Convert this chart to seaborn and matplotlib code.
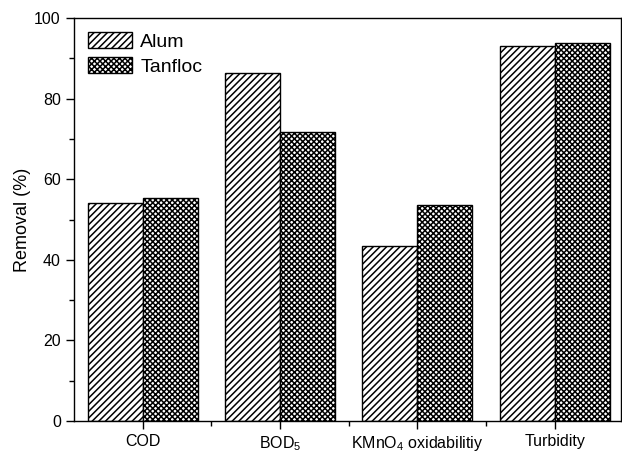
import pandas as pd
import matplotlib
matplotlib.use("Agg")
import matplotlib.pyplot as plt
import seaborn as sns
from matplotlib.patches import Patch
from matplotlib.ticker import MultipleLocator, FixedLocator

parameters = ["COD", "BOD$_5$", "KMnO$_4$ oxidabilitiy", "Turbidity"]
alum = [54.0, 86.3, 43.3, 93.0]
tanfloc = [55.3, 71.7, 53.7, 93.8]
coagulants = ["Alum", "Tanfloc"]
hatches = ["/////", "xxxxxx"]

df = pd.DataFrame({
    "Parameter": parameters * 2,
    "Removal": alum + tanfloc,
    "Coagulant": ["Alum"] * 4 + ["Tanfloc"] * 4,
})

sns.set_style("ticks")
plt.rcParams["font.family"] = ["Liberation Sans", "DejaVu Sans"]
plt.rcParams["mathtext.fontset"] = "custom"
plt.rcParams["mathtext.rm"] = "Liberation Sans"
plt.rcParams["mathtext.it"] = "Liberation Sans"
plt.rcParams["hatch.linewidth"] = 1.1
for k in ["text.color", "axes.labelcolor", "xtick.color", "ytick.color", "axes.edgecolor"]:
    plt.rcParams[k] = "black"

fig = plt.figure(figsize=(6.22, 4.54), dpi=100)
ax = fig.add_axes([0.119, 0.073, 0.879, 0.887])

sns.barplot(data=df, x="Parameter", y="Removal", hue="Coagulant",
            palette=["white", "white"], edgecolor="black", linewidth=1.0,
            width=0.8, ax=ax, legend=False)

for cont, h in zip(ax.containers, hatches):
    for bar in cont:
        bar.set_hatch(h)
        bar.set_edgecolor("black")

ax.set_xlim(-0.5, 3.48)
ax.set_ylim(0, 100)
ax.yaxis.set_major_locator(MultipleLocator(20))
ax.yaxis.set_minor_locator(MultipleLocator(10))
ax.xaxis.set_minor_locator(FixedLocator([0.5, 1.5, 2.5]))
ax.tick_params(axis="both", which="major", direction="out", length=6, width=1,
               labelsize=11.5, colors="black")
ax.tick_params(axis="both", which="minor", direction="out", length=3.5, width=1)
ax.set_xlabel("")
ax.set_ylabel("Removal (%)", fontsize=13, labelpad=2)
for s in ax.spines.values():
    s.set_visible(True)
    s.set_linewidth(1)
    s.set_color("black")

handles = [Patch(facecolor="white", edgecolor="black", hatch=h, label=c)
           for c, h in zip(coagulants, hatches)]
ax.legend(handles=handles, loc="upper left", frameon=False, fontsize=14,
          handlelength=2.3, handleheight=0.9, borderaxespad=0.3,
          handletextpad=0.4, labelspacing=0.35)

fig.savefig("out.png", dpi=100)
